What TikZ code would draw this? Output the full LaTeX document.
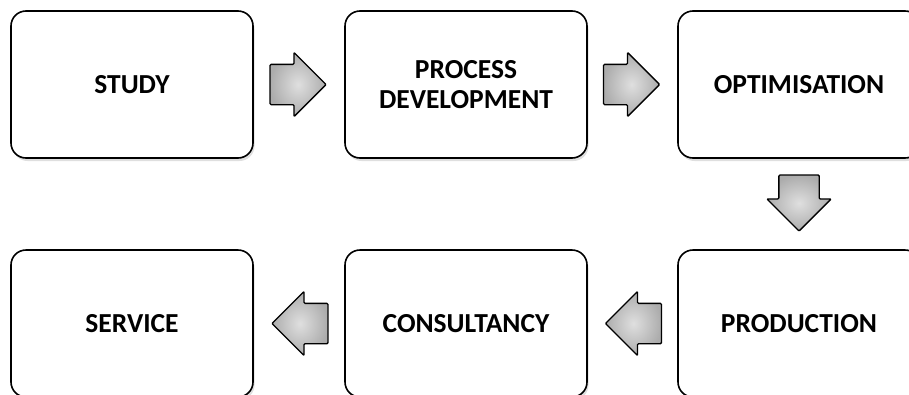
\documentclass[tikz,border=0pt]{standalone}
\usepackage{fontspec}
\setmainfont{Carlito}
\usetikzlibrary{shapes.arrows,shadows}

\tikzset{
  stage/.style={draw, line width=1.6pt, rounded corners=15pt, fill=white,
    minimum width=242pt, minimum height=147pt, align=center,
    font=\fontsize{27.5}{29.5}\selectfont\bfseries,
    drop shadow={shadow xshift=1.5pt, shadow yshift=-3pt, opacity=.25}},
  blockarrow/.style={draw, line width=1.3pt, single arrow,
    minimum height=56pt, single arrow head extend=12pt,
    inner color=gray!25, outer color=gray!65, rounded corners=1pt},
  rightblock/.style={blockarrow, inner xsep=0pt, inner ysep=19.5pt},
  leftblock/.style={rightblock, shape border rotate=180},
  downblock/.style={blockarrow, inner xsep=19.5pt, inner ysep=0pt,
    shape border rotate=270}
}

\begin{document}
\begin{tikzpicture}[x=1pt, y=-1pt]
  \useasboundingbox (0,0) rectangle (909,394);

  \node[stage] (study) at (132,84.5) {STUDY};
  \node[stage] (procdev) at (466,84.5) {PROCESS\\DEVELOPMENT};
  \node[stage] (optim) at (799,84.5) {OPTIMISATION};

  \node[stage] (prod) at (799,323.5) {PRODUCTION};
  \node[stage] (consult) at (466,323.5) {CONSULTANCY};
  \node[stage] (service) at (132,323.5) {SERVICE};

  \node[rightblock] (a1) at (288,84.5) {};
  \node[rightblock] (a2) at (621.5,84.5) {};
  \node[downblock] (a3) at (799,193) {};
  \node[leftblock] (a4) at (643.5,323.5) {};
  \node[leftblock] (a5) at (310,323.5) {};

\end{tikzpicture}
\end{document}
